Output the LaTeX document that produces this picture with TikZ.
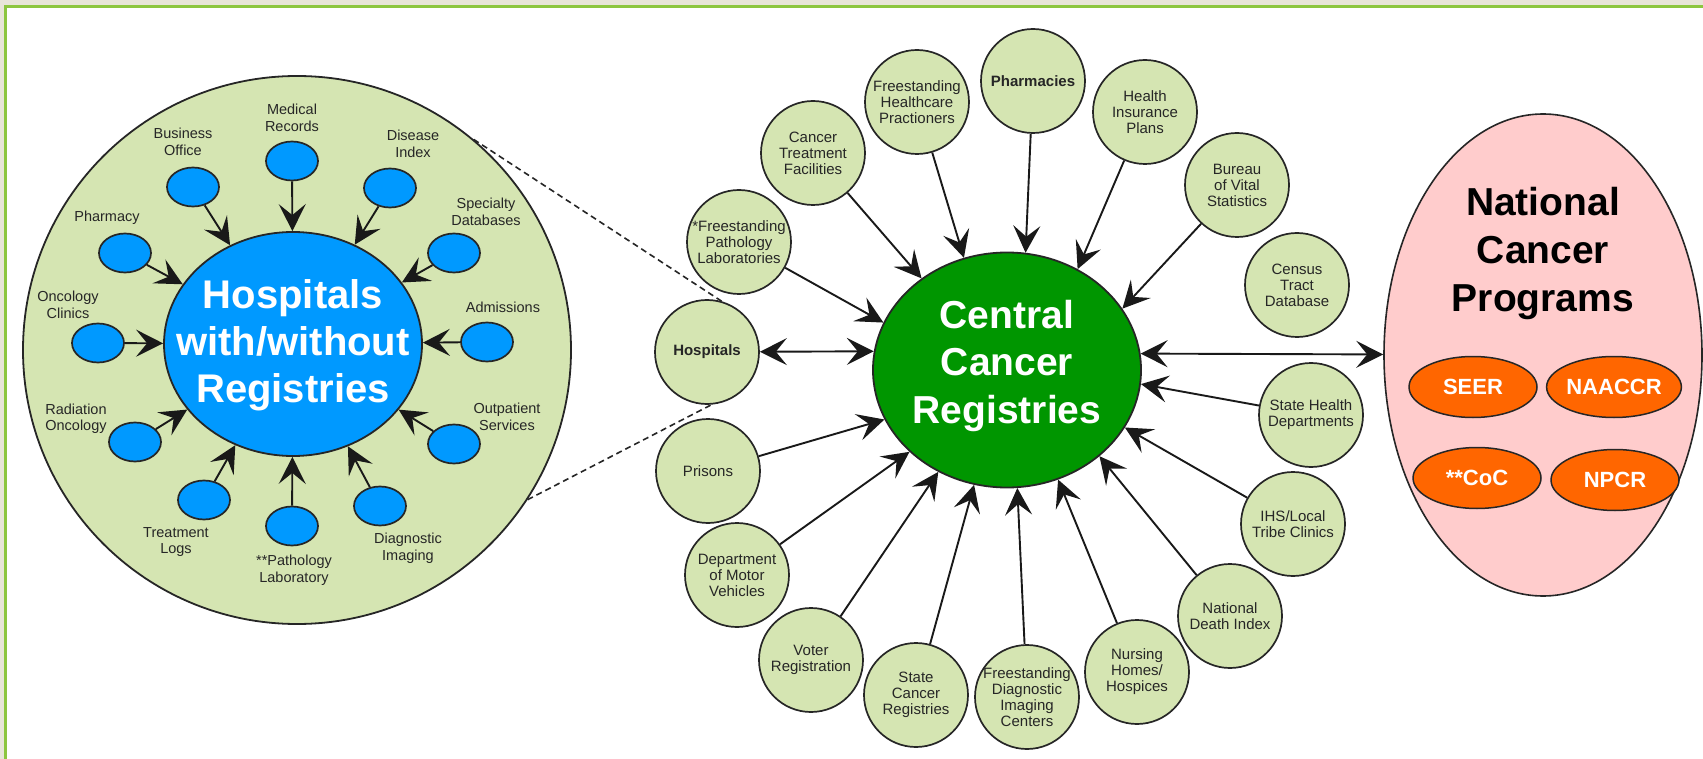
\documentclass[tikz,border=0pt]{standalone}
\usepackage{fontspec}
\setmainfont{Liberation Sans}
\usetikzlibrary{arrows.meta,shapes.geometric}
\definecolor{satgreen}{RGB}{213,229,178}
\definecolor{azure}{RGB}{0,153,255}
\definecolor{ccrgreen}{RGB}{0,150,0}
\definecolor{pinkfill}{RGB}{255,204,204}
\definecolor{orng}{RGB}{255,102,0}
\definecolor{beige}{RGB}{232,229,216}
\definecolor{framegreen}{RGB}{141,198,63}
\begin{document}
\begin{tikzpicture}[x=1pt,y=-1pt,
  sat/.style={circle, draw=black!85, line width=1.7pt, fill=satgreen, minimum size=104pt, inner sep=-8pt, align=center, text=black!85, font=\fontsize{15}{16}\selectfont},
  sub/.style={ellipse, draw=black!85, line width=1.7pt, fill=azure, minimum width=52pt, minimum height=39pt, inner sep=0pt},
  lbl/.style={align=center, text=black!85, inner sep=0pt, font=\fontsize{14.5}{16.5}\selectfont},
  prog/.style={ellipse, draw=black!85, line width=1.5pt, fill=orng, minimum width=128pt, minimum height=61pt, inner sep=0pt, text=white, font=\bfseries\fontsize{22}{26}\selectfont},
  hubtext/.style={align=center, inner sep=0pt, font=\bfseries\fontsize{40}{47}\selectfont},
  arr/.style={line width=1.9pt, draw=black!90, -{Stealth[length=27pt,width=27pt,inset=11pt]}},
  darr/.style={line width=1.9pt, draw=black!90, {Stealth[length=27pt,width=27pt,inset=11pt]}-{Stealth[length=27pt,width=27pt,inset=11pt]}},
  dashline/.style={line width=1.6pt, draw=black!85, dash pattern=on 6pt off 4pt}
]
\useasboundingbox (0,0) rectangle (1703,759);
\fill[beige] (0,0) rectangle (1703,759);
\fill[white] (5.5,6.5) rectangle (1703,759);
\draw[framegreen, line width=2.5pt] (5.5,759) -- (5.5,6.5) -- (1703,6.5);

% ---------- left: hospitals ----------
\node[circle, draw=black!85, line width=1.8pt, fill=satgreen, minimum size=548pt, inner sep=0pt] (big) at (297,350) {};
\node[ellipse, draw=black!85, line width=1.8pt, fill=azure, minimum width=258pt, minimum height=224pt, inner sep=0pt] (blue) at (293,344) {};
\node[hubtext, text=white] (bluetext) at (293,345) {Hospitals\\with/without\\Registries};

\node[sub] (sMed) at (292,161) {};
\node[sub] (sBus) at (193,187) {};
\node[sub] (sDis) at (390,188) {};
\node[sub] (sPha) at (125,253) {};
\node[sub] (sSpe) at (454,253) {};
\node[sub] (sOnc) at (98,343) {};
\node[sub] (sAdm) at (487,342) {};
\node[sub] (sRad) at (135,442) {};
\node[sub] (sTre) at (204,500) {};
\node[sub] (sPat) at (292,526) {};
\node[sub] (sDia) at (380,506) {};
\node[sub] (sOut) at (454,444) {};

\node[lbl] (lMed) at (292,118) {Medical\\Records};
\node[lbl] (lBus) at (183,142) {Business\\Office};
\node[lbl] (lDis) at (413,144) {Disease\\Index};
\node[lbl] (lPha) at (107,218) {Pharmacy};
\node[lbl] (lSpe) at (486,212) {Specialty\\Databases};
\node[lbl] (lOnc) at (68,305) {Oncology\\Clinics};
\node[lbl] (lAdm) at (503,307) {Admissions};
\node[lbl] (lRad) at (76,419) {Radiation\\Oncology};
\node[lbl] (lTre) at (176,542) {Treatment\\Logs};
\node[lbl] (lPat) at (294,570) {**Pathology\\Laboratory};
\node[lbl] (lDia) at (408,548) {Diagnostic\\Imaging};
\node[lbl] (lOut) at (507,417) {Outpatient\\Services};

\foreach \s in {sMed,sBus,sDis,sPha,sSpe,sOnc,sAdm,sRad,sTre,sPat,sDia,sOut}
  \draw[arr] (\s) -- (blue);

% ---------- centre: central cancer registries ----------
\node[ellipse, draw=black!85, line width=1.8pt, fill=ccrgreen, minimum width=268pt, minimum height=235pt, inner sep=0pt] (green) at (1007,370) {};
\node[hubtext, text=white, font=\bfseries\fontsize{39}{47.5}\selectfont] (greentext) at (1007,366) {Central\\Cancer\\Registries};

\node[sat, font=\bfseries\fontsize{15}{16}\selectfont] (hosp) at (707,352) {Hospitals};
\node[sat] (path) at (739,242) {*Freestanding\\Pathology\\Laboratories};
\node[sat] (ctf) at (813,153) {Cancer\\Treatment\\Facilities};
\node[sat] (fhp) at (917,102) {Freestanding\\Healthcare\\Practioners};
\node[sat, font=\bfseries\fontsize{15}{16}\selectfont] (pharm) at (1033,81) {Pharmacies};
\node[sat] (hip) at (1145,112) {Health\\Insurance\\Plans};
\node[sat] (bur) at (1237,185) {Bureau\\of Vital\\Statistics};
\node[sat] (cen) at (1297,285) {Census\\Tract\\Database};
\node[sat] (shd) at (1311,415) {State Health\\Departments};
\node[sat] (ihs) at (1293,524) {IHS/Local\\Tribe Clinics};
\node[sat] (ndi) at (1230,616) {National\\Death Index};
\node[sat] (nurs) at (1137,672) {Nursing\\Homes/\\Hospices};
\node[sat] (fdi) at (1027,697) {Freestanding\\Diagnostic\\Imaging\\Centers};
\node[sat] (scr) at (916,695) {State\\Cancer\\Registries};
\node[sat] (voter) at (811,660) {Voter\\Registration};
\node[sat] (dmv) at (737,575) {Department\\of Motor\\Vehicles};
\node[sat] (pris) at (708,471) {Prisons};

\draw[arr] (path) -- (green.159);
\draw[arr] (ctf) -- (green.133);
\draw[arr] (fhp) -- (green.111);
\draw[arr] (pharm) -- (green.81);
\draw[arr] (hip) -- (green.55);
\draw[arr] (bur) -- (green.28);
\draw[arr] (shd) -- (green.-6);
\draw[arr] (ihs) -- (green.-26);
\draw[arr] (ndi) -- (green.-43);
\draw[arr] (nurs) -- (green.-65);
\draw[arr] (fdi) -- (green.-85);
\draw[arr] (scr) -- (green.-106);
\draw[arr] (voter) -- (green.-124);
\draw[arr] (dmv) -- (green.-140);
\draw[arr] (pris) -- (green.-158);
\draw[darr] (hosp) -- (green.172);

% dashed callout lines
\draw[dashline] (big.50) -- (hosp.74);
\draw[dashline] (big.-33) -- (hosp.-85);

% ---------- right: national programs ----------
\node[ellipse, draw=black!85, line width=1.6pt, fill=pinkfill, minimum width=318pt, minimum height=482pt, inner sep=0pt] (pink) at (1543,355) {};
\node[hubtext, text=black, font=\bfseries\fontsize{39}{48}\selectfont] (pinktext) at (1543,254) {National\\Cancer\\Programs};
\node[prog] (seer) at (1473,387) {SEER};
\node[prog] (naaccr) at (1614,387) {NAACCR};
\node[prog] (coc) at (1477,478) {**CoC};
\node[prog] (npcr) at (1615,480) {NPCR};

\draw[darr] (green.7) -- (pink);
\end{tikzpicture}
\end{document}
